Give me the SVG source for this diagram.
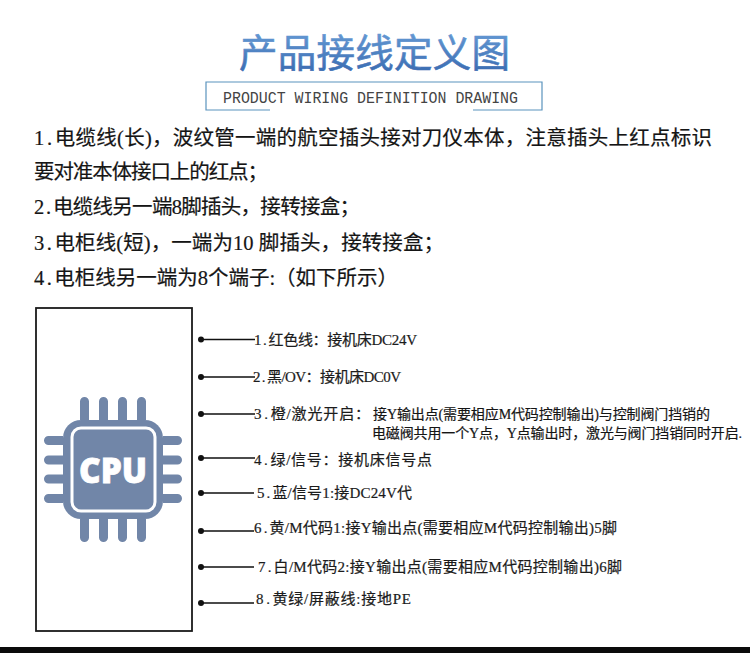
<svg xmlns="http://www.w3.org/2000/svg" width="750" height="653" viewBox="0 0 750 653">
<style>
text{font-family:"Liberation Mono","Noto Sans CJK SC",monospace;fill:#151515;stroke:#151515;stroke-width:.2}
.p{font-size:20.500px}
.l{font-size:15px;fill:#1c1c1c}
.s{font-size:14px}
tspan{font-family:"Liberation Serif","Noto Sans CJK SC",serif}
.p .n{letter-spacing:2.500px}
.l .n{letter-spacing:1.900px}
.wire{stroke:#111;stroke-width:1.3;fill:none}
.dot{fill:#111}
.pin{fill:#7186a8}
</style>
<defs>
<linearGradient id="tg" x1="0" y1="0" x2="0" y2="1">
<stop offset="0" stop-color="#6ea4dc"/>
<stop offset="1" stop-color="#3566ad"/>
</linearGradient>
</defs>
<rect width="750" height="653" fill="#fff"/>
<g id="title">
<text x="239" y="67" font-size="38.500" textLength="271" lengthAdjust="spacing" style="font-family:'Noto Sans CJK SC',sans-serif;fill:url(#tg);stroke:url(#tg);stroke-width:.6">产品接线定义图</text>
<path d="M270 110H206V82H542V110H473" fill="none" stroke="#5a93bd" stroke-width="1.2"/>
<text x="223" y="103" font-size="16" textLength="295" lengthAdjust="spacingAndGlyphs" style="fill:#444;stroke:none">PRODUCT WIRING DEFINITION DRAWING</text>
</g>
<g id="notes">
<text class="p" x="34" y="145" textLength="678" lengthAdjust="spacing"><tspan class="n">1.</tspan>电缆线<tspan>(</tspan>长<tspan>)</tspan>，波纹管一端的航空插头接对刀仪本体，注意插头上红点标识</text>
<text class="p" x="34" y="179" textLength="234" lengthAdjust="spacing">要对准本体接口上的红点；</text>
<text class="p" x="34" y="214" textLength="326" lengthAdjust="spacing"><tspan class="n">2.</tspan>电缆线另一端<tspan>8</tspan>脚插头，接转接盒；</text>
<text class="p" x="34" y="250" textLength="410" lengthAdjust="spacing"><tspan class="n">3.</tspan>电柜线<tspan>(</tspan>短<tspan>)</tspan>，一端为<tspan>10 </tspan>脚插头，接转接盒；</text>
<text class="p" x="34" y="285" textLength="364" lengthAdjust="spacing"><tspan class="n">4.</tspan>电柜线另一端为<tspan>8</tspan>个端子<tspan>:</tspan>（如下所示）</text>
</g>
<g id="cpu-box">
<rect x="36" y="308" width="156" height="323" fill="#fff" stroke="#1a1a1a" stroke-width="1.8"/>
<g id="cpu-icon">
<path class="pin" d="M80 420V401.500a4.500 4.500 0 0 1 9 0V420ZM99 420V401.500a4.500 4.500 0 0 1 9 0V420ZM118 420V401.500a4.500 4.500 0 0 1 9 0V420ZM137 420V401.500a4.500 4.500 0 0 1 9 0V420Z"/>
<path class="pin" d="M80 519V537.500a4.500 4.500 0 0 0 9 0V519ZM99 519V537.500a4.500 4.500 0 0 0 9 0V519ZM118 519V537.500a4.500 4.500 0 0 0 9 0V519ZM137 519V537.500a4.500 4.500 0 0 0 9 0V519Z"/>
<path class="pin" d="M63 436H48.500a4.500 4.500 0 0 0 0 9H63ZM63 455.500H48.500a4.500 4.500 0 0 0 0 9H63ZM63 474.500H48.500a4.500 4.500 0 0 0 0 9H63ZM63 494H48.500a4.500 4.500 0 0 0 0 9H63Z"/>
<path class="pin" d="M163 436H177.500a4.500 4.500 0 0 1 0 9H163ZM163 455.500H177.500a4.500 4.500 0 0 1 0 9H163ZM163 474.500H177.500a4.500 4.500 0 0 1 0 9H163ZM163 494H177.500a4.500 4.500 0 0 1 0 9H163Z"/>
<rect class="pin" x="63" y="420" width="100" height="99" rx="18"/>
<rect x="72" y="428" width="83" height="83" rx="9" fill="#7186a8" stroke="#fff" stroke-width="3"/>
<text x="79" y="483" font-size="36" font-weight="800" textLength="68" lengthAdjust="spacingAndGlyphs" style="font-family:'Open Sans',sans-serif;fill:#fff;stroke:#fff;stroke-width:.8">CPU</text>
</g>
</g>
<g id="connectors">
<path class="wire" d="M201 339.500H255M201 377H255M201 414H255M201 458H255M201 493H254M201 531H254M201 567H254M201 603H254"/>
<g class="dot">
<circle cx="201" cy="339.500" r="3"/><circle cx="201" cy="377" r="3"/><circle cx="201" cy="414" r="3"/><circle cx="201" cy="458" r="3"/><circle cx="201" cy="493" r="3"/><circle cx="201" cy="531" r="3"/><circle cx="201" cy="567" r="3"/><circle cx="201" cy="603" r="3"/>
</g>
</g>
<g id="terminal-1"><text class="l" x="254" y="345" textLength="163" lengthAdjust="spacing"><tspan class="n">1.</tspan>红色线：接机床<tspan>DC24V</tspan></text></g>
<g id="terminal-2"><text class="l" x="253" y="382" textLength="148" lengthAdjust="spacing"><tspan class="n">2.</tspan>黑<tspan>/OV</tspan>：接机床<tspan>DC0V</tspan></text></g>
<g id="terminal-3">
<text class="l" x="254" y="419" textLength="116" lengthAdjust="spacing"><tspan class="n">3.</tspan>橙<tspan>/</tspan>激光开启：</text>
<text class="s" x="373" y="419" textLength="337" lengthAdjust="spacing">接<tspan>Y</tspan>输出点<tspan>(</tspan>需要相应<tspan>M</tspan>代码控制输出<tspan>)</tspan>与控制阀门挡销的</text>
<text class="s" x="372" y="438" textLength="370" lengthAdjust="spacing">电磁阀共用一个<tspan>Y</tspan>点，<tspan>Y</tspan>点输出时，激光与阀门挡销同时开启<tspan>.</tspan></text>
</g>
<g id="terminal-4"><text class="l" x="254" y="465" textLength="178" lengthAdjust="spacing"><tspan class="n">4.</tspan>绿<tspan>/</tspan>信号：接机床信号点</text></g>
<g id="terminal-5"><text class="l" x="257" y="498" textLength="155" lengthAdjust="spacing"><tspan class="n">5.</tspan>蓝<tspan>/</tspan>信号<tspan>1:</tspan>接<tspan>DC24V</tspan>代</text></g>
<g id="terminal-6"><text class="l" x="254" y="533" textLength="363" lengthAdjust="spacing"><tspan class="n">6.</tspan>黄<tspan>/M</tspan>代码<tspan>1:</tspan>接<tspan>Y</tspan>输出点<tspan>(</tspan>需要相应<tspan>M</tspan>代码控制输出<tspan>)5</tspan>脚</text></g>
<g id="terminal-7"><text class="l" x="258" y="572" textLength="364" lengthAdjust="spacing"><tspan class="n">7.</tspan>白<tspan>/M</tspan>代码<tspan>2:</tspan>接<tspan>Y</tspan>输出点<tspan>(</tspan>需要相应<tspan>M</tspan>代码控制输出<tspan>)6</tspan>脚</text></g>
<g id="terminal-8"><text class="l" x="256" y="604" textLength="155" lengthAdjust="spacing"><tspan class="n">8.</tspan>黄绿<tspan>/</tspan>屏蔽线<tspan>:</tspan>接地<tspan>PE</tspan></text></g>
<rect id="bottom-bar" x="0" y="647" width="750" height="6" fill="#0a0a0a"/>
</svg>
